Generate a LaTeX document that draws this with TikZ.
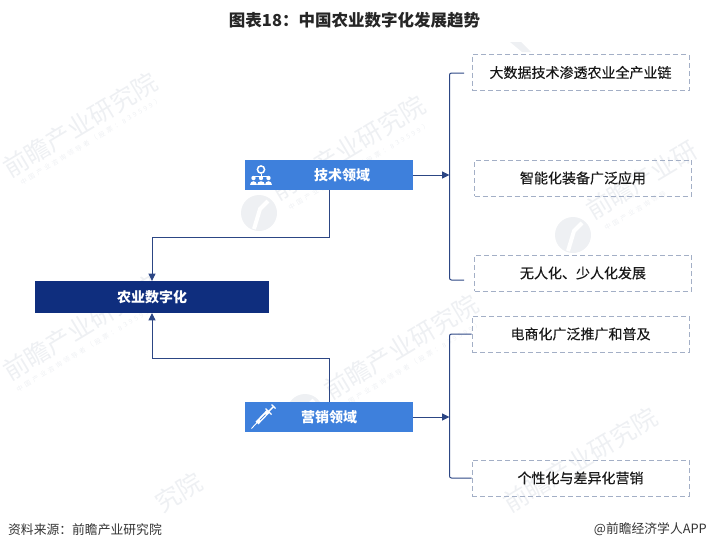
\documentclass[tikz,border=0pt]{standalone}
\usepackage{fontspec}
\setmainfont{Noto Sans CJK SC}
\newfontfamily\mittel[FakeBold=0.25]{Noto Sans CJK SC}
\newfontfamily\klein[LetterSpace=40]{Noto Sans CJK SC}
\usepackage{tikz}
\usetikzlibrary{positioning, arrows.meta}
\definecolor{navy}{HTML}{0F2E7E}
\definecolor{azure}{HTML}{3E80DC}
\definecolor{slate}{HTML}{A3AFC6}
\definecolor{linie}{HTML}{2C4684}
\definecolor{wasser}{HTML}{EEF0F3}
\begin{document}
\begin{tikzpicture}[x=1pt, y=-1pt,
      agri/.style={fill=navy, text=white, align=center, font=\bfseries\fontsize{14}{16}\selectfont,
        minimum width=234pt, minimum height=31.5pt, inner sep=0pt},
      field/.style={fill=azure, text=white, align=center, font=\bfseries\fontsize{14}{16}\selectfont,
        minimum width=168pt, minimum height=30.5pt, inner sep=0pt},
      trend/.style={draw=slate, line width=1pt, dash pattern=on 5pt off 3pt, text=black!90,
        align=center, font=\mittel\fontsize{14}{16}\selectfont,
        minimum width=217pt, minimum height=36pt, inner sep=0pt},
      pfeil/.style={-{Triangle[length=7.5pt, width=7pt]}, linie, line width=1pt},
      schiene/.style={linie, line width=1pt, rounded corners=2pt},
      marke/.style={wasser, rotate=31, font=\fontsize{25}{25}\selectfont, anchor=west, inner sep=0pt},
      markeklein/.style={wasser, rotate=31, font=\klein\fontsize{6.5}{7}\selectfont, anchor=west, inner sep=0pt},
      fuss/.style={font=\fontsize{12.8}{14}\selectfont, text=black!80, inner sep=0pt}]
    \useasboundingbox (0,0) rectangle (709,550);
    % watermark
    \foreach \wx/\wy/\wt in {5/170/前瞻产业研究院, 273/193/前瞻产业研究院, 588/212/前瞻产业研,
        5/373/前瞻产业研究院, 326/392/前瞻产业研究院, 505/505/前瞻产业研究院, 157/505/究院}
      \node[marke] at (\wx,\wy) {\wt};
    \foreach \wx/\wy/\wt in {21/183/中国产业咨询领导者（股票：839599）, 289/208/中国产业咨询领导者（股票：839599）,
        605/229/中国产业咨询领导,
        17/390/中国产业咨询领导者（股票：839599）, 341/407/中国产业咨询领导者（股票：839599）}
      \node[markeklein] at (\wx,\wy) {\wt};
    \foreach \lx/\ly in {259/213, 573/235, 305/412} {
      \fill[wasser] (\lx,\ly) circle (18);
      \draw[white, line width=4pt] (\lx-5,\ly+16) -- (\lx+1,\ly-4) -- (\lx+9,\ly-12);
    }
    \fill[wasser] (510,42) -- (521,42) -- (531,52) -- (522,52) -- cycle;
    \node[font=\bfseries\fontsize{16.5}{18}\selectfont, text=black!85] (title) at (354.5,20) {图表18：中国农业数字化发展趋势};
    \node[agri] (digital) at (152,297) {农业数字化};
    \node[field] (tech) at (329,175) {\hspace{26pt}技术领域};
    \node[field] (sales) at (329,417) {营销领域};
    \node[trend] (t1) at (580.5,72.5) {大数据技术渗透农业全产业链};
    \node[trend] (t2) at (583,178) {智能化装备广泛应用};
    \node[trend] (t3) at (583,273) {无人化、少人化发展};
    \node[trend] (s1) at (580.5,334) {电商化广泛推广和普及};
    \node[trend] (s2) at (580.5,478) {个性化与差异化营销};
    \node[fuss, anchor=west] (source) at (8,529.5) {资料来源：前瞻产业研究院};
    \node[fuss, anchor=east] (brand) at (707,529.5) {@前瞻经济学人APP};
    \coordinate (techbend) at (329,237);
    \coordinate (salesbend) at (329,358);
    \coordinate (techrail) at (449.5,175);
    \coordinate (salesrail) at (449.5,417);
    \coordinate (t1end) at (464,73);
    \coordinate (t3end) at (464,280);
    \draw[pfeil] (tech.south) -- (techbend) -| (digital.north);
    \draw[pfeil] (sales.north) -- (salesbend) -| (digital.south);
    \draw[pfeil] (tech) -- (techrail);
    \draw[pfeil] (sales) -- (salesrail);
    \draw[schiene] (t1end) -| (techrail) |- (t3end);
    \draw[schiene] (s1.west) -| (salesrail) |- (s2.west);
    % people icon
    \draw[white, line width=1.5pt] (261,169.5) circle (3.6);
    \draw[white, line width=0.9pt] (261,173.5) -- (261,176) (254,176) -- (268,176) (254,176) -- (254,178) (268,176) -- (268,178);
    \foreach \px in {253.5,261,268.5} {
      \fill[white] (\px,178) circle (2.2);
      \fill[white] (\px-3.6,185) .. controls (\px-3.6,179.5) and (\px+3.6,179.5) .. (\px+3.6,185) -- cycle;
    }
    % syringe icon
    \draw[white, line width=4pt] (257,423) -- (268,411.5);
    \draw[azure, line width=0.7pt] (260,420) -- (265.5,414.5);
    \draw[white, line width=0.9pt] (251.5,428.5) -- (258,421.5);
    \draw[white, line width=1.4pt] (265.5,408.5) -- (271.5,414.5) (269,411) -- (274,406);
    \draw[white, line width=1.4pt] (271.5,404.5) -- (275.5,408.5);
  \end{tikzpicture}
\end{document}
